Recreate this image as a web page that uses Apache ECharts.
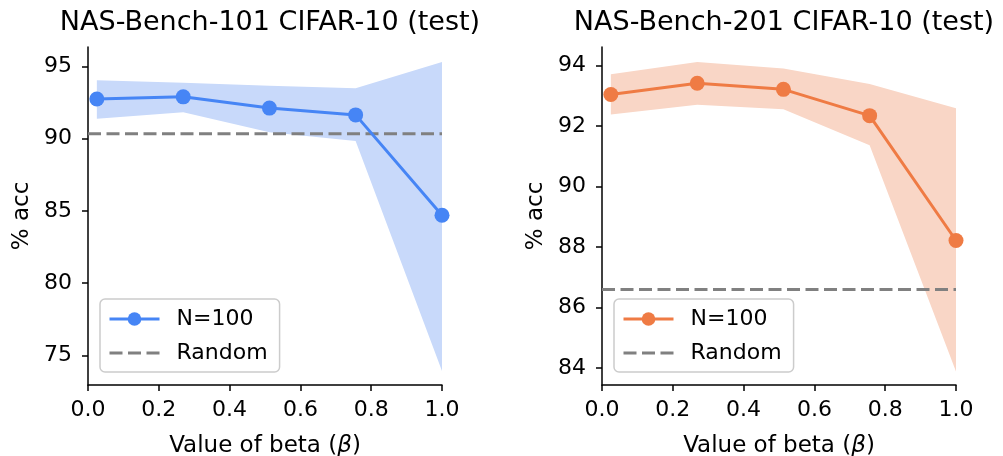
<!DOCTYPE html>
<html>
<head>
<meta charset="utf-8">
<script src="https://cdn.jsdelivr.net/npm/echarts@6/dist/echarts.min.js"></script>
<style>
  html, body { margin: 0; padding: 0; background: #fff; }
  #wrap { position: relative; width: 1003px; height: 456px; }
  #left { position: absolute; left: 0; top: 0; width: 501px; height: 456px; }
  #right { position: absolute; left: 501px; top: 0; width: 502px; height: 456px; }
</style>
</head>
<body>
<div id="wrap"><div id="left"></div><div id="right"></div></div>
<script>
// beta values sampled in the sweep
const betas = [0.025, 0.269, 0.5125, 0.756, 1.0];
const xTickLabels = ['0.0', '0.2', '0.4', '0.6', '0.8', '1.0'];

// NAS-Bench-101, CIFAR-10 test accuracy (%)
const nb101Mean  = [92.75, 92.90, 92.12, 91.65, 84.70];
const nb101Upper = [94.05, 93.87, 93.66, 93.50, 95.32];
const nb101Lower = [91.38, 91.84, 90.45, 89.84, 73.92];
const nb101Random = 90.35;
const nb101YTicks = [75, 80, 85, 90, 95];

// NAS-Bench-201, CIFAR-10 test accuracy (%)
const nb201Mean  = [93.05, 93.42, 93.22, 92.35, 88.22];
const nb201Upper = [93.72, 94.12, 93.91, 93.40, 92.59];
const nb201Lower = [92.39, 92.71, 92.56, 91.37, 83.89];
const nb201Random = 86.60;
const nb201YTicks = [84, 86, 88, 90, 92, 94];

const FONT = 'DejaVu Sans';

function panel(el, cfg) {
  const chart = echarts.init(el, null, { renderer: 'canvas' });
  const pts = betas.map((b, i) => [b, cfg.mean[i]]);
  const spine = { show: true, onZero: false, lineStyle: { color: '#000', width: 1.5 } };
  const tick = { show: true, length: 6, lineStyle: { color: '#000', width: 1.5 } };
  chart.setOption({
    animation: false,
    title: {
      text: cfg.title,
      left: cfg.gridLeft + (el.clientWidth - cfg.gridLeft - cfg.gridRight) / 2,
      textAlign: 'center',
      top: 4,
      textStyle: { fontFamily: FONT, fontSize: 27, fontWeight: 'normal', color: '#000' }
    },
    grid: {
      left: cfg.gridLeft, right: cfg.gridRight, top: 47, bottom: 71,
      containLabel: false, outerBoundsMode: 'none'
    },
    legend: {
      data: [
        { name: 'N=100' },
        { name: 'Random', itemStyle: { opacity: 0 } }
      ],
      orient: 'vertical',
      left: cfg.gridLeft + 12,
      top: 299,
      padding: [9, 12, 8, 8],
      itemWidth: 50,
      itemHeight: 17,
      itemGap: 12,
      lineStyle: { width: 3 },
      borderColor: '#cccccc',
      borderWidth: 1.5,
      borderRadius: 5,
      backgroundColor: '#fff',
      textStyle: { fontFamily: FONT, fontSize: 22, color: '#000', padding: [0, 0, 0, 12] }
    },
    xAxis: {
      type: 'value', min: 0, max: 1, interval: 0.2,
      name: 'Value of beta ({b|β})',
      nameLocation: 'middle', nameGap: 50,
      nameTextStyle: {
        fontFamily: FONT, fontSize: 23, color: '#000',
        rich: { b: { fontFamily: FONT, fontSize: 23, fontStyle: 'italic', color: '#000' } }
      },
      axisLine: spine,
      axisTick: tick,
      splitLine: { show: false },
      axisLabel: {
        fontFamily: FONT, fontSize: 22, color: '#000', margin: 14,
        formatter: v => xTickLabels[Math.round(v / 0.2)]
      }
    },
    yAxis: {
      type: 'value', min: cfg.yMin, max: cfg.yMax,
      name: '% acc', nameLocation: 'middle', nameGap: 45, nameRotate: 90,
      nameTextStyle: { fontFamily: FONT, fontSize: 23, color: '#000' },
      axisLine: spine,
      splitLine: { show: false },
      axisLabel: { fontFamily: FONT, fontSize: 22, color: '#000', margin: 16, customValues: cfg.yTicks },
      axisTick: Object.assign({ customValues: cfg.yTicks }, tick)
    },
    series: [
      {
        name: 'band',
        type: 'custom',
        z: 1,
        silent: true,
        data: [[betas[0], cfg.upper[0]]],
        renderItem: function (params, api) {
          const top = betas.map((b, i) => api.coord([b, cfg.upper[i]]));
          const bot = betas.map((b, i) => api.coord([b, cfg.lower[i]])).reverse();
          return { type: 'polygon', shape: { points: top.concat(bot) }, style: { fill: cfg.band } };
        }
      },
      {
        name: 'Random',
        type: 'line',
        z: 3,
        symbol: 'none',
        data: [[0, cfg.random], [1, cfg.random]],
        lineStyle: { color: '#808080', width: 3, type: [13, 5.5] },
        itemStyle: { color: '#808080' }
      },
      {
        name: 'N=100',
        type: 'line',
        z: 4,
        data: pts,
        symbol: 'circle',
        symbolSize: 15,
        lineStyle: { color: cfg.color, width: 3 },
        itemStyle: { color: cfg.color }
      }
    ]
  });
}

panel(document.getElementById('left'), {
  title: 'NAS-Bench-101 CIFAR-10 (test)',
  gridLeft: 88, gridRight: 59,
  yMin: 72.95, yMax: 96.35, yTicks: nb101YTicks,
  mean: nb101Mean, upper: nb101Upper, lower: nb101Lower, random: nb101Random,
  color: '#4685f5', band: '#c8d9fa'
});

panel(document.getElementById('right'), {
  title: 'NAS-Bench-201 CIFAR-10 (test)',
  gridLeft: 101, gridRight: 47,
  yMin: 83.44, yMax: 94.62, yTicks: nb201YTicks,
  mean: nb201Mean, upper: nb201Upper, lower: nb201Lower, random: nb201Random,
  color: '#ef7b44', band: '#f9d6c6'
});
</script>
</body>
</html>
